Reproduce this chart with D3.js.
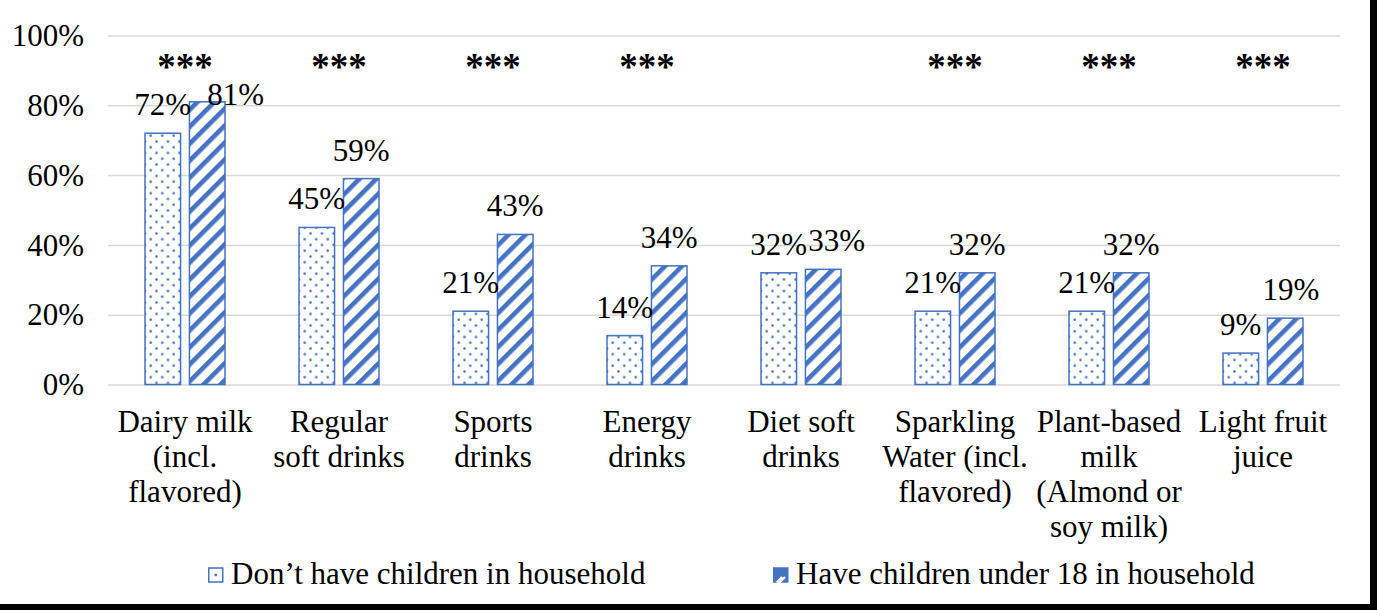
<!DOCTYPE html>
<html>
<head>
<meta charset="utf-8">
<script src="https://cdn.jsdelivr.net/npm/d3@7"></script>
<style>
  html, body { margin: 0; padding: 0; background: #fff; }
  svg { display: block; }
  svg text { font-family: "Liberation Serif", Tinos, "Times New Roman", Times, "DejaVu Serif", serif; fill: #000; }
  .tick-label, .cat-label, .value-label, .legend-label { font-size: 31px; }
  .stars { font-size: 37px; font-weight: bold; }
</style>
</head>
<body>
<div id="wrapper"></div>
<script>
'use strict';

//#region DATASET
const categories = [
  ['Dairy milk', '(incl.', 'flavored)'],
  ['Regular', 'soft drinks'],
  ['Sports', 'drinks'],
  ['Energy', 'drinks'],
  ['Diet soft', 'drinks'],
  ['Sparkling', 'Water (incl.', 'flavored)'],
  ['Plant-based', 'milk', '(Almond or', 'soy milk)'],
  ['Light fruit', 'juice']
];
const seriesNames = ['Don\u2019t have children in household', 'Have children under 18 in household'];
const noChildren = [72, 45, 21, 14, 32, 21, 21, 9];
const withChildren = [81, 59, 43, 34, 33, 32, 32, 19];
const significance = ['***', '***', '***', '***', '', '***', '***', '***'];
const yTicks = [0, 20, 40, 60, 80, 100];
//#endregion DATASET

function drawChart () {
  //#region CHART DIMENSIONS
  const dimensions = {
    width: 1377,
    height: 610,
    margin: { top: 35.5, right: 37, bottom: 225.5, left: 108 }
  };
  dimensions.plotWidth = dimensions.width - dimensions.margin.left - dimensions.margin.right;
  dimensions.plotHeight = dimensions.height - dimensions.margin.top - dimensions.margin.bottom;
  const blue = '#4472C4';
  //#endregion CHART DIMENSIONS

  //#region DRAW CANVAS
  const wrapper = d3.select('#wrapper').append('svg')
    .attr('width', dimensions.width)
    .attr('height', dimensions.height);

  const defs = wrapper.append('defs');

  const dots = defs.append('pattern')
    .attr('id', 'dots')
    .attr('patternUnits', 'userSpaceOnUse')
    .attr('width', 11.5)
    .attr('height', 11.5);
  dots.append('rect').attr('width', 11.5).attr('height', 11.5).attr('fill', '#fff');
  dots.append('circle').attr('cx', 2.5).attr('cy', 2.5).attr('r', 1.3).attr('fill', blue);
  dots.append('circle').attr('cx', 8.25).attr('cy', 8.25).attr('r', 1.3).attr('fill', blue);

  const stripes = defs.append('pattern')
    .attr('id', 'stripes')
    .attr('patternUnits', 'userSpaceOnUse')
    .attr('width', 12)
    .attr('height', 12)
    .attr('patternTransform', 'rotate(45)');
  stripes.append('rect').attr('width', 12).attr('height', 12).attr('fill', '#fff');
  stripes.append('rect').attr('width', 4.6).attr('height', 12).attr('fill', blue);

  const plot = wrapper.append('g')
    .attr('transform', `translate(${dimensions.margin.left}, ${dimensions.margin.top})`);
  //#endregion DRAW CANVAS

  //#region CREATE SCALES
  const xScale = d3.scaleBand()
    .domain(d3.range(categories.length))
    .range([0, dimensions.plotWidth]);

  const innerWidth = 80;
  const xInner = d3.scaleBand()
    .domain([0, 1])
    .range([(xScale.bandwidth() - innerWidth) / 2, (xScale.bandwidth() + innerWidth) / 2])
    .paddingInner(0.2);

  const yScale = d3.scaleLinear()
    .domain([0, 100])
    .range([dimensions.plotHeight, 0]);
  //#endregion CREATE SCALES

  //#region DRAW PERIPHERALS
  const yAxisGenerator = d3.axisLeft(yScale)
    .tickValues(yTicks)
    .tickSize(-dimensions.plotWidth)
    .tickPadding(24)
    .tickFormat(d => d + '%');

  const yAxis = plot.append('g').call(yAxisGenerator);
  yAxis.select('.domain').remove();
  yAxis.attr('font-size', null).attr('font-family', null);
  yAxis.selectAll('.tick line')
    .attr('stroke', '#d9d9d9')
    .attr('stroke-width', 1.5);
  yAxis.selectAll('.tick text')
    .attr('class', 'tick-label')
    .attr('dy', '0.33em');

  const catGroups = plot.append('g').selectAll('text')
    .data(categories)
    .enter()
    .append('text')
    .attr('class', 'cat-label')
    .attr('text-anchor', 'middle')
    .attr('x', (d, i) => xScale(i) + xScale.bandwidth() / 2)
    .attr('y', dimensions.plotHeight + 47);

  catGroups.selectAll('tspan')
    .data(d => d)
    .enter()
    .append('tspan')
    .attr('x', function () { return d3.select(this.parentNode).attr('x'); })
    .attr('dy', (d, i) => i === 0 ? 0 : 35)
    .text(d => d);
  //#endregion DRAW PERIPHERALS

  //#region DRAW DATA
  const barData = categories.map((c, i) => [
    { series: 0, value: noChildren[i], cat: i },
    { series: 1, value: withChildren[i], cat: i }
  ]);

  const groups = plot.append('g').selectAll('g')
    .data(barData)
    .enter()
    .append('g')
    .attr('transform', (d, i) => `translate(${xScale(i)}, 0)`);

  groups.selectAll('rect')
    .data(d => d)
    .enter()
    .append('rect')
    .attr('x', d => xInner(d.series))
    .attr('y', d => yScale(d.value))
    .attr('width', xInner.bandwidth())
    .attr('height', d => dimensions.plotHeight - yScale(d.value))
    .attr('fill', d => d.series === 0 ? 'url(#dots)' : 'url(#stripes)')
    .attr('stroke', blue)
    .attr('stroke-width', 1.5);

  // stars sit in a row near the top; labels that would hit them move beside the bar
  const starsBaseline = yScale(100) + 43;
  const labelGap = 18;
  const labelHeight = 22;

  groups.selectAll('text.value-label')
    .data(d => d)
    .enter()
    .append('text')
    .attr('class', 'value-label')
    .attr('text-anchor', 'middle')
    .each(function (d) {
      let x = xInner(d.series) + xInner.bandwidth() / 2;
      let y = yScale(d.value) - labelGap;
      if (y - labelHeight < starsBaseline + 4) {
        x += xInner.bandwidth() * 0.8;
        y = yScale(d.value) + 3;
      }
      d3.select(this).attr('x', x).attr('y', y);
    })
    .text(d => d.value + '%');

  // nudge the second label right when two labels in a pair touch
  groups.each(function () {
    const pair = d3.select(this).selectAll('text.value-label').nodes();
    const a = pair[0].getBBox();
    const b = pair[1].getBBox();
    const overlapX = a.x + a.width + 1 - b.x;
    const overlapY = Math.min(a.y + a.height, b.y + b.height) - Math.max(a.y, b.y);
    if (overlapX > 0 && overlapY > 0) {
      d3.select(pair[1]).attr('x', +d3.select(pair[1]).attr('x') + overlapX);
    }
  });

  plot.append('g').selectAll('text')
    .data(significance)
    .enter()
    .append('text')
    .attr('class', 'stars')
    .attr('text-anchor', 'middle')
    .attr('x', (d, i) => xScale(i) + xScale.bandwidth() / 2)
    .attr('y', starsBaseline)
    .text(d => d);
  //#endregion DRAW DATA

  //#region LEGEND
  const legendY = 575;
  const legendX = [208, 773];
  const legend = wrapper.append('g').selectAll('g')
    .data(seriesNames)
    .enter()
    .append('g')
    .attr('transform', (d, i) => `translate(${legendX[i]}, ${legendY})`);

  legend.append('rect')
    .attr('x', 0.75)
    .attr('y', -7)
    .attr('width', 14)
    .attr('height', 14)
    .attr('fill', (d, i) => i === 0 ? '#fff' : blue)
    .attr('stroke', blue)
    .attr('stroke-width', 1.5);
  legend.filter((d, i) => i === 0).append('rect')
    .attr('x', 6.5).attr('y', -1.25).attr('width', 2.5).attr('height', 2.5)
    .attr('fill', blue);
  legend.filter((d, i) => i === 1).append('path')
    .attr('d', 'M3.5,10.5 L12,2 M3.5,7.5 L9,2')
    .attr('stroke', '#fff')
    .attr('stroke-width', 2.2);

  legend.append('text')
    .attr('class', 'legend-label')
    .attr('x', 23)
    .attr('y', 9)
    .text(d => d);
  //#endregion LEGEND

  //#region FRAME
  wrapper.append('rect')
    .attr('x', dimensions.width - 7)
    .attr('y', 0)
    .attr('width', 7)
    .attr('height', dimensions.height)
    .attr('fill', '#000');
  wrapper.append('rect')
    .attr('x', 0)
    .attr('y', dimensions.height - 6)
    .attr('width', dimensions.width)
    .attr('height', 6)
    .attr('fill', '#000');
  //#endregion FRAME
}

drawChart();
</script>
</body>
</html>
